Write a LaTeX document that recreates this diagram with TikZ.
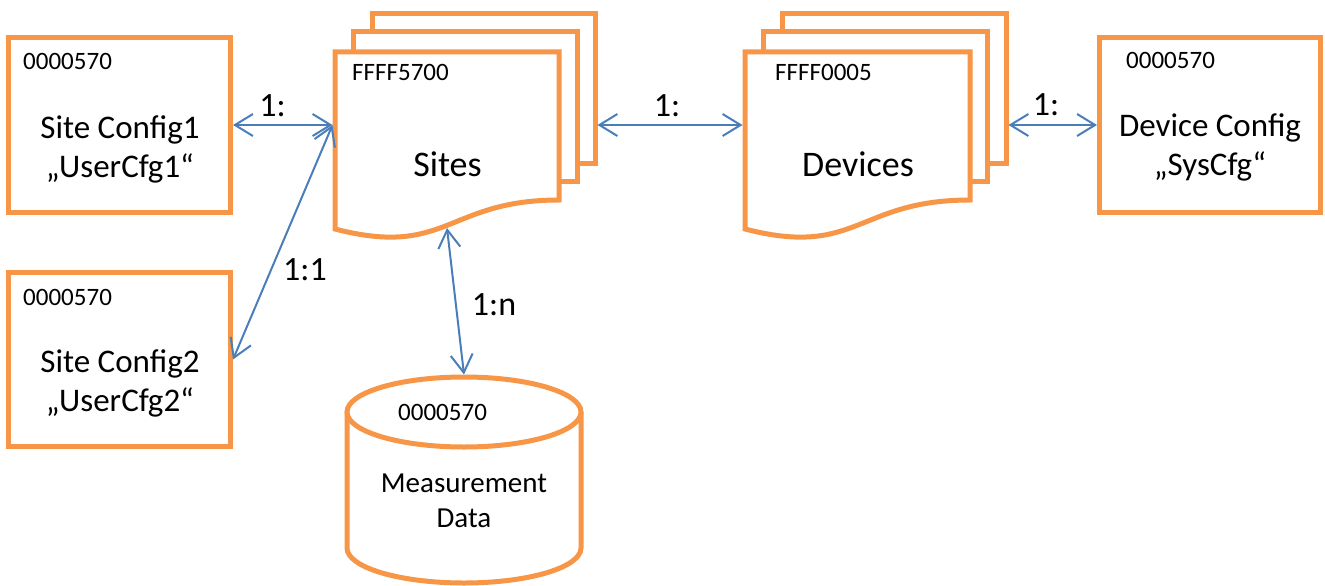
\documentclass[tikz,border=0pt]{standalone}
\usepackage{fontspec}
\setmainfont{Carlito}
\usetikzlibrary{arrows.meta}
\definecolor{org}{HTML}{F79646}
\definecolor{blu}{HTML}{4A7EBB}
\tikzset{
  box/.style={draw=org, line width=5pt, fill=white, rectangle, inner sep=0pt},
  page/.style={draw=org, line width=5pt, fill=white, line join=miter},
  anchorbox/.style={rectangle, inner sep=0pt, outer sep=2.5pt},
  conn/.style={draw=blu, line width=2pt,
    {Straight Barb[length=18pt,width=22pt]}-{Straight Barb[length=18pt,width=22pt]}},
  idtxt/.style={font=\fontsize{25}{30}\selectfont, anchor=base west, inner sep=0pt},
  maintxt/.style={font=\fontsize{33}{39}\selectfont, align=center, anchor=base, inner sep=0pt},
  bigtxt/.style={font=\fontsize{36}{42}\selectfont, anchor=base, inner sep=0pt},
  dbtxt/.style={font=\fontsize{29}{35}\selectfont, align=center, anchor=base, inner sep=0pt},
  lbl/.style={font=\fontsize{34}{40}\selectfont, anchor=base, inner sep=0pt},
}
\begin{document}
\begin{tikzpicture}[x=1pt,y=-1pt]
\useasboundingbox (0,0) rectangle (1325,586);

% Site Config boxes
\node[box, minimum width=222pt, minimum height=175pt] (sc1) at (119.5,125) {};
\node[idtxt] (sc1id) at (23,70) {0000570};
\node[maintxt] (sc1t) at (120,177) {Site Config1\\„UserCfg1“};

\node[box, minimum width=222pt, minimum height=174pt] (sc2) at (119.5,359.5) {};
\node[idtxt] (sc2id) at (23,305) {0000570};
\node[maintxt] (sc2t) at (120,411) {Site Config2\\„UserCfg2“};

% Device Config box
\node[box, minimum width=221pt, minimum height=175pt] (dc) at (1210,125) {};
\node[idtxt] (dcid) at (1126,68) {0000570};
\node[maintxt] (dct) at (1210,175) {Device Config\\„SysCfg“};

% Sites multi-document
\node[box, minimum width=223pt, minimum height=149pt] (sitesB) at (483.5,88.5) {};
\node[box, minimum width=224pt, minimum height=149pt] (sitesM) at (465,106.5) {};
\path[page] (335,52) -- (559,52) -- (559,200) .. controls (447,200) and (447,258) .. (335,229) -- cycle;
\node[anchorbox, minimum width=224pt, minimum height=177pt] (sitesF) at (447,140.5) {};
\coordinate (sitesBot) at (447,228);
\node[idtxt] (sitesid) at (352,81) {FFFF5700};
\node[bigtxt] (sitest) at (447.5,176) {Sites};

% Devices multi-document
\node[box, minimum width=224pt, minimum height=149pt] (devB) at (894,88.5) {};
\node[box, minimum width=224pt, minimum height=149pt] (devM) at (875.5,106.5) {};
\path[page] (745,52) -- (970,52) -- (970,200) .. controls (857,200) and (857,258) .. (745,229) -- cycle;
\node[anchorbox, minimum width=225pt, minimum height=177pt] (devF) at (857.5,140.5) {};
\node[idtxt] (devid) at (775,81) {FFFF0005};
\node[bigtxt] (devt) at (858,176) {Devices};

% Measurement data cylinder
\path[fill=white] (347,412) -- (347,548) arc[start angle=180,end angle=0,x radius=117,y radius=35] -- (581,412) -- cycle;
\draw[draw=org, line width=5pt] (347,412) -- (347,548) arc[start angle=180,end angle=0,x radius=117,y radius=35] -- (581,412);
\draw[draw=org, line width=5pt, fill=white] (464,412) ellipse [x radius=117, y radius=35];
\node[anchorbox, minimum width=234pt, minimum height=206pt] (meas) at (464,480) {};
\node[idtxt] (measid) at (398,420) {0000570};
\node[dbtxt] (meast) at (464,527) {Measurement\\Data};

% Connectors
\draw[conn] (sc1.east) -- (sitesF.west |- sc1.east);
\draw[conn] (sitesF.west |- sc1.east) -- (sc2.east);
\draw[conn] (sitesBot) -- (meas.north);
\draw[conn] (sitesB.east |- sc1.east) -- (devF.west |- sc1.east);
\draw[conn] (devB.east |- dc.west) -- (dc.west);

% Labels
\node[lbl] (l1) at (272.5,116) {1:};
\node[lbl] (l2) at (305,280) {1:1};
\node[lbl] (l3) at (494,315) {1:n};
\node[lbl] (l4) at (667,116) {1:};
\node[lbl] (l5) at (1046,115) {1:};
\end{tikzpicture}
\end{document}
